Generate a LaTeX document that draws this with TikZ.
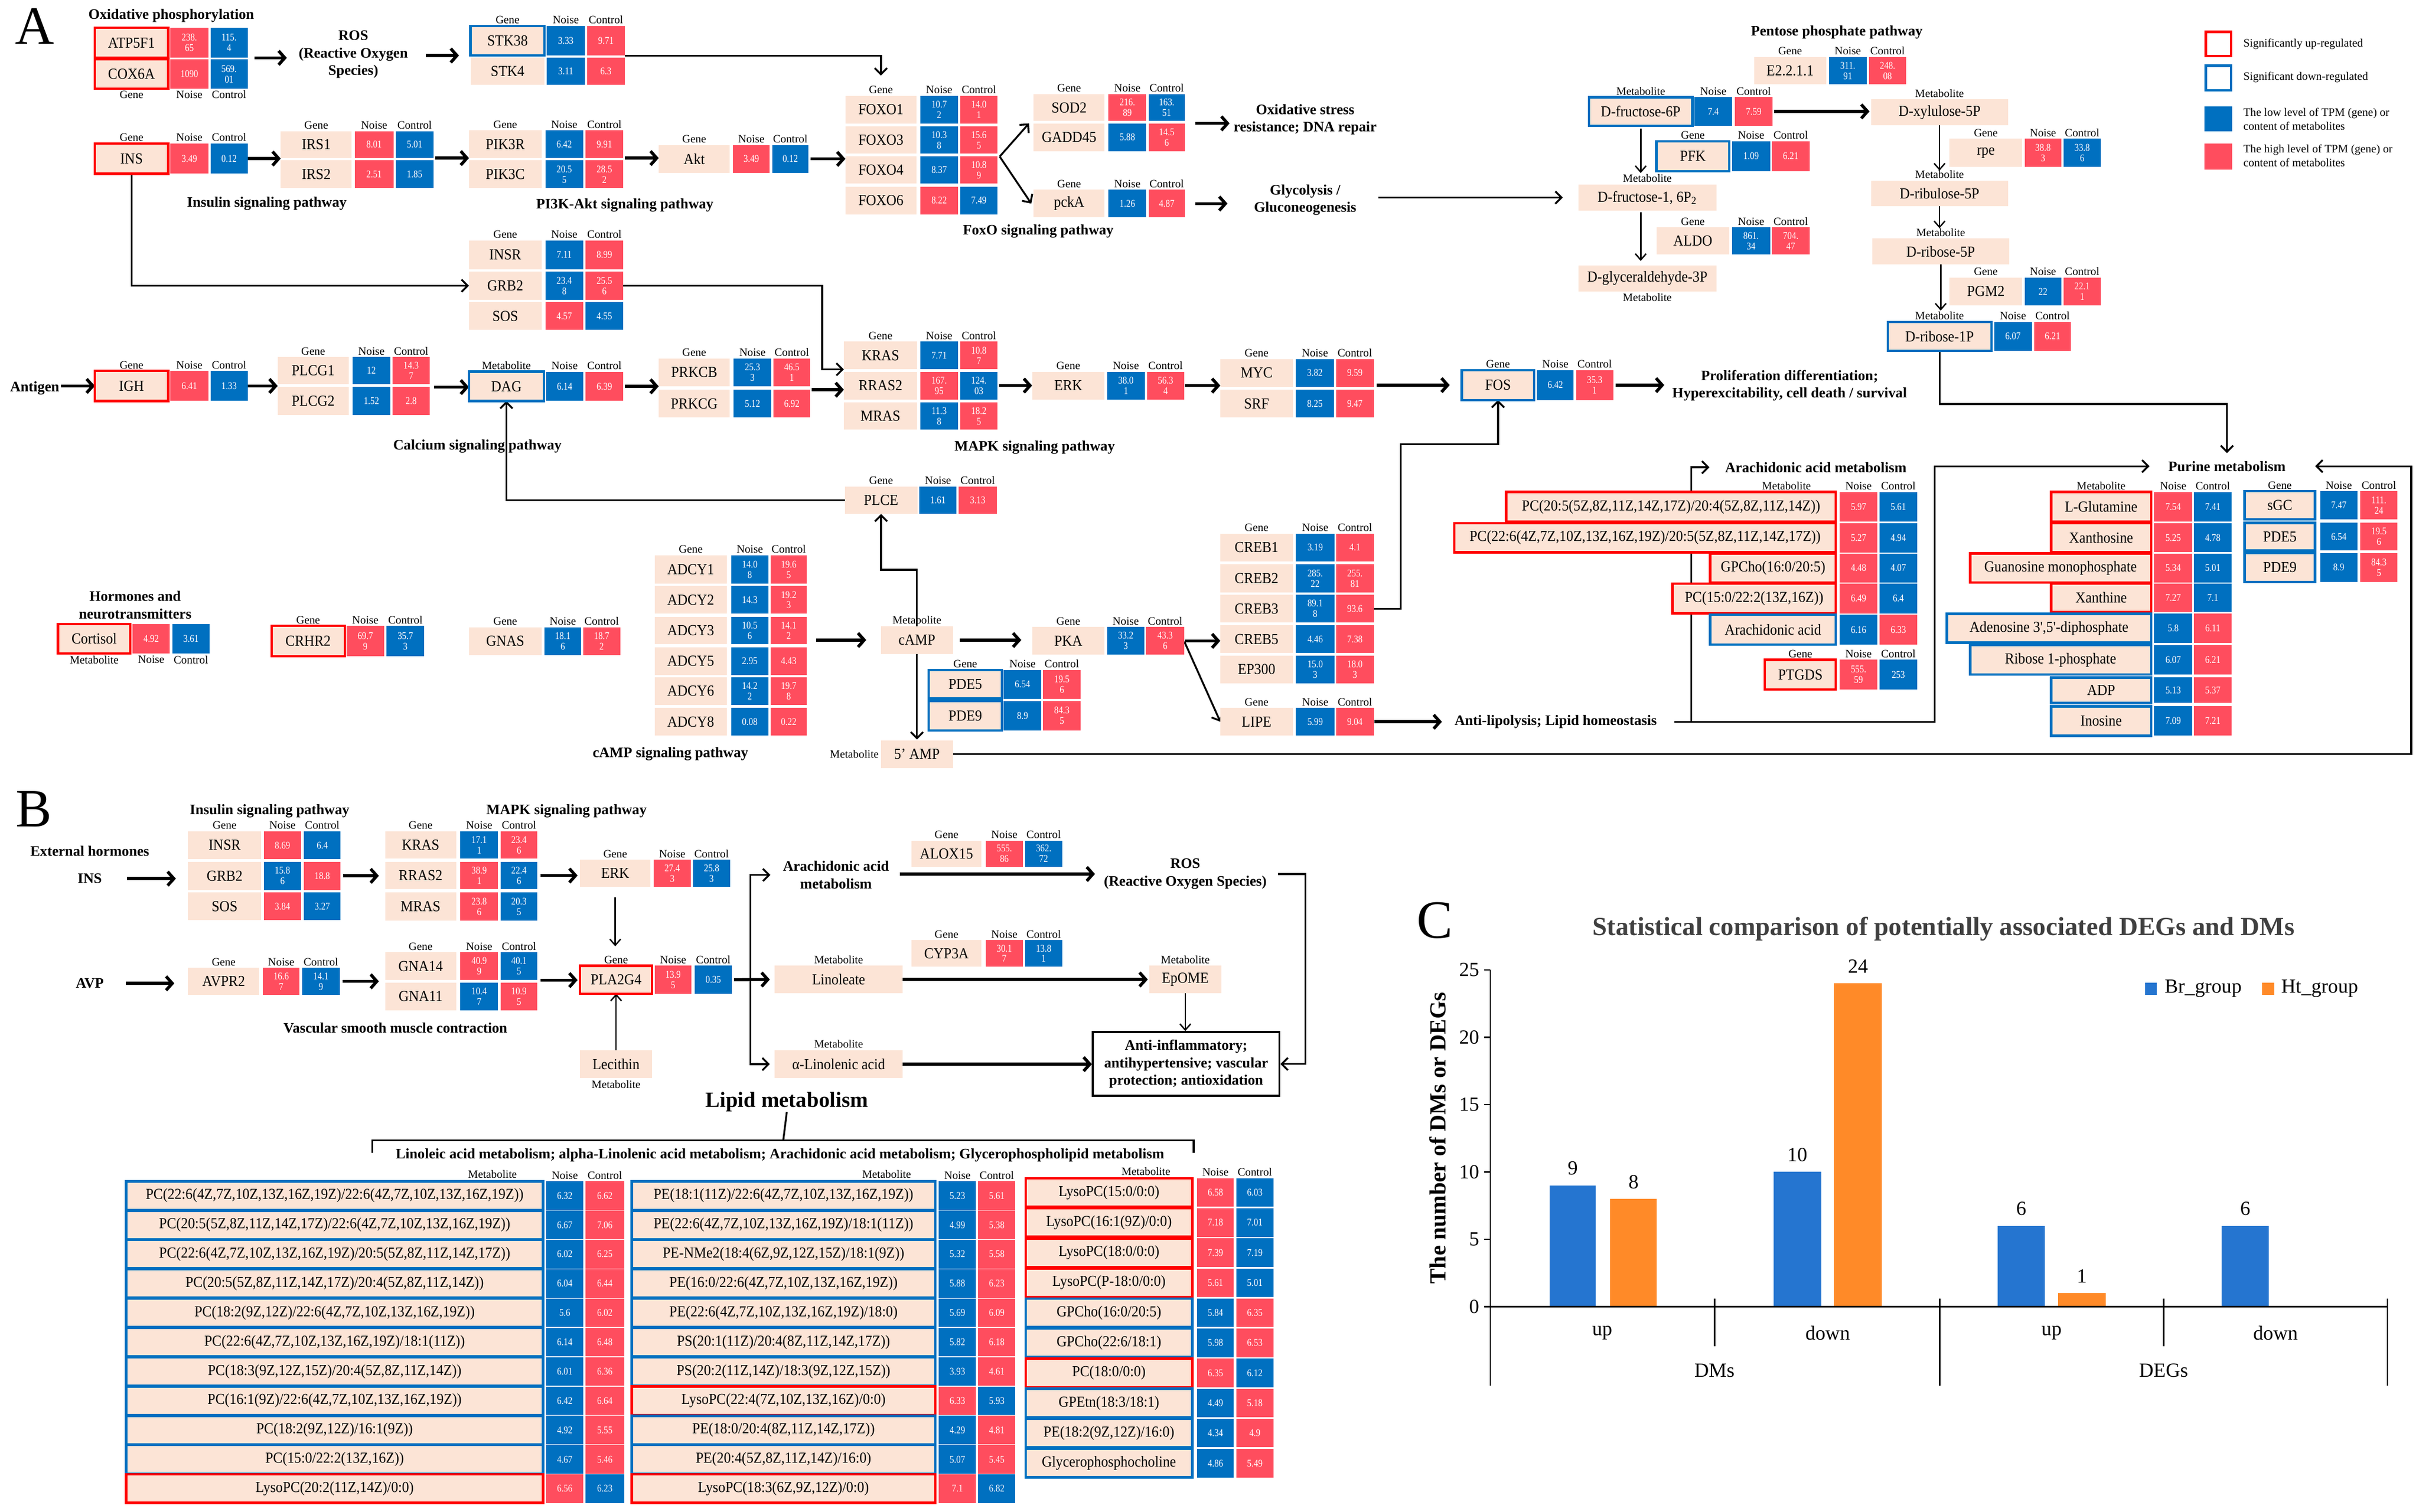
\documentclass[tikz,border=0pt]{standalone}
\usepackage{fontspec}
\setmainfont{Liberation Serif}
\newfontfamily\gfont[FakeStretch=0.92]{Liberation Serif}
\newfontfamily\nfont[FakeStretch=0.85]{Liberation Serif}
\usetikzlibrary{arrows.meta,fit}
\pgfdeclarelayer{back}
\pgfdeclarelayer{bg}
\pgfsetlayers{back,bg,main}
\definecolor{beige}{HTML}{FCE4D6}
\definecolor{cR}{HTML}{FF4D5E}
\definecolor{cB}{HTML}{0070C0}
\definecolor{bR}{HTML}{FF0000}
\definecolor{bB}{HTML}{0070C0}
\definecolor{barB}{HTML}{2575D0}
\definecolor{barO}{HTML}{FF8A28}
\definecolor{tgray}{HTML}{404040}
\newcommand{\setcols}[6]{\def\xa{#1}\def\xb{#2}\def\xc{#3}\def\xd{#4}\def\xe{#5}\def\xf{#6}}
\newcommand{\grw}[9]{%
 \node[#4, fit={(\xa,#2)(\xb,#3)}] (#1) {};
 \node[gt] (#1t) at (#1.center) {#5};
 \node[#6, fit={(\xc,#2)(\xd,#3)}] (#1n) {};
 \node[ctx] (#1nt) at (#1n.center) {#7};
 \node[#8, fit={(\xe,#2)(\xf,#3)}] (#1c) {};
 \node[ctx] (#1ct) at (#1c.center) {#9};}
\newcommand{\bxx}[6]{\node[gb, fit={(#2,#3)(#4,#5)}] (#1) {};\node[gt] (#1t) at (#1.center) {#6};}
\newcommand{\HdrA}[2]{\node[hd,anchor=south] (#1h1) at (#1.north) {#2};\node[hd,anchor=south] (#1h2) at (#1n.north) {Noise};\node[hd,anchor=south] (#1h3) at (#1c.north) {Control};}
\newcommand{\HdrB}[2]{\node[hd,anchor=north] (#1h1) at (#1.south) {#2};\node[hd,anchor=north] (#1h2) at (#1n.south) {Noise};\node[hd,anchor=north] (#1h3) at (#1c.south) {Control};}
\newcommand{\HdrNC}[1]{\node[hd,anchor=south] (#1h2) at (#1n.north) {Noise};\node[hd,anchor=south] (#1h3) at (#1c.north) {Control};}
\tikzset{
 gb/.style={fill=beige, inner sep=0pt, outer sep=0pt},
 up/.style={gb, draw=bR, line width=1.6pt},
 dn/.style={gb, draw=bB, line width=1.6pt},
 cr/.style={fill=cR, inner sep=0pt, outer sep=0pt},
 cb/.style={fill=cB, inner sep=0pt, outer sep=0pt},
 gt/.style={inner sep=0pt, font=\gfont\fontsize{9.9}{11}\selectfont},
 ctx/.style={inner sep=0pt, text=white, font=\nfont\fontsize{6.7}{6.8}\selectfont, align=center},
 hd/.style={font=\fontsize{7.3}{8}\selectfont, inner sep=1.2pt},
 tt/.style={font=\bfseries\fontsize{9.4}{11.3}\selectfont, align=center, inner sep=0pt},
 lg/.style={font=\fontsize{7.4}{9.1}\selectfont, inner sep=0pt, align=left},
 big/.style={font=\fontsize{35}{35}\selectfont, inner sep=0pt},
 ct/.style={font=\fontsize{13}{15}\selectfont, inner sep=0pt},
 arrK/.style={line width=2pt, -{Straight Barb[length=4pt,width=9pt]}},
 arrM/.style={line width=1.2pt, -{Straight Barb[length=4pt,width=8pt]}},
 arrT/.style={line width=0.9pt, -{Straight Barb[length=4pt,width=7pt]}},
}
\begin{document}
\begin{tikzpicture}[x=1pt,y=-1pt]
\useasboundingbox (0,0) rectangle (1568,980.4);
\begin{pgfonlayer}{back}
\fill[white] (0,0) rectangle (1568,980.4);
\end{pgfonlayer}
% ================= PANEL A =================
\node[big] (lA) at (22.5,17) {A};
\node[tt] (oxp) at (111,10) {Oxidative phosphorylation};
\setcols{61.5}{109}{110.5}{135}{136.5}{160.5}
\grw{atp}{18}{37.5}{up}{ATP5F1}{cr}{238.\\65}{cb}{115.\\4}
\grw{cox}{38.5}{57.5}{up}{COX6A}{cr}{1090}{cb}{569.\\01}
\HdrB{cox}{Gene}
\node[tt] (ros) at (229,35.4) {ROS\\(Reactive Oxygen\\Species)};
\setcols{305}{353}{354.5}{379}{380.5}{405}
\grw{stkA}{16.8}{36}{dn}{STK38}{cb}{3.33}{cr}{9.71}
\grw{stkB}{37.5}{55}{gb}{STK4}{cb}{3.11}{cr}{6.3}
\HdrA{stkA}{Gene}
\setcols{61.5}{109}{110.5}{135}{136.5}{160.5}
\grw{ins}{93}{112.6}{up}{INS}{cr}{3.49}{cb}{0.12}
\HdrA{ins}{Gene}
\setcols{182}{228}{230}{255}{256.5}{281}
\grw{irsA}{85}{102.5}{gb}{IRS1}{cr}{8.01}{cb}{5.01}
\grw{irsB}{104}{122}{gb}{IRS2}{cr}{2.51}{cb}{1.85}
\HdrA{irsA}{Gene}
\setcols{304}{351}{353.5}{378}{379.5}{404}
\grw{pikR}{84.5}{102.5}{gb}{PIK3R}{cb}{6.42}{cr}{9.91}
\grw{pikC}{104}{122}{gb}{PIK3C}{cb}{20.5\\5}{cr}{28.5\\2}
\HdrA{pikR}{Gene}
\setcols{427}{473}{475}{499}{500.5}{524}
\grw{akt}{94}{112}{gb}{Akt}{cr}{3.49}{cb}{0.12}
\HdrA{akt}{Gene}
\node[tt] (insp) at (173,132) {Insulin signaling pathway};
\node[tt] (pikp) at (405,133) {PI3K-Akt signaling pathway};
\setcols{548}{594}{596.5}{621}{622.5}{646.5}
\grw{foxA}{62}{80}{gb}{FOXO1}{cb}{10.7\\2}{cr}{14.0\\1}
\grw{foxB}{82}{99.5}{gb}{FOXO3}{cb}{10.3\\8}{cr}{15.6\\5}
\grw{foxC}{101.5}{119}{gb}{FOXO4}{cb}{8.37}{cr}{10.8\\9}
\grw{foxD}{121}{139}{gb}{FOXO6}{cr}{8.22}{cb}{7.49}
\HdrA{foxA}{Gene}
\setcols{670}{716}{718.5}{743}{744.5}{768}
\grw{sod}{61}{78.5}{gb}{SOD2}{cr}{216.\\89}{cb}{163.\\51}
\grw{gadd}{80}{98}{gb}{GADD45}{cb}{5.88}{cr}{14.5\\6}
\HdrA{sod}{Gene}
\grw{pcka}{123}{141}{gb}{pckA}{cb}{1.26}{cr}{4.87}
\HdrA{pcka}{Gene}
\node[tt] (foxp) at (673,150) {FoxO signaling pathway};
\node[tt] (oxs) at (846,77.5) {Oxidative stress\\resistance; DNA repair};
\node[tt] (glyc) at (846,129.7) {Glycolysis /\\Gluconeogenesis};
\setcols{304}{351}{353.5}{378}{379.5}{404}
\grw{insr}{156}{174.5}{gb}{INSR}{cb}{7.11}{cr}{8.99}
\grw{grb}{176}{194.5}{gb}{GRB2}{cb}{23.4\\8}{cr}{25.5\\6}
\grw{sos}{196}{214}{gb}{SOS}{cr}{4.57}{cb}{4.55}
\HdrA{insr}{Gene}
\setcols{61.5}{109}{110.5}{135}{136.5}{160.5}
\grw{igh}{240.5}{260}{up}{IGH}{cr}{6.41}{cb}{1.33}
\HdrA{igh}{Gene}
\node[tt] (antigen) at (22.5,251.6) {Antigen};
\setcols{180}{226}{228.5}{253}{254.5}{278.5}
\grw{plcA}{231.5}{249}{gb}{PLCG1}{cb}{12}{cr}{14.3\\7}
\grw{plcB}{251}{269}{gb}{PLCG2}{cb}{1.52}{cr}{2.8}
\HdrA{plcA}{Gene}
\setcols{304}{352.5}{354}{378}{379.5}{404}
\grw{dag}{241}{260}{dn}{DAG}{cb}{6.14}{cr}{6.39}
\HdrA{dag}{Metabolite}
\setcols{427}{473}{475.5}{500}{501.5}{525}
\grw{prkB}{232.5}{250.5}{gb}{PRKCB}{cb}{25.3\\3}{cr}{46.5\\1}
\grw{prkG}{252.7}{270.7}{gb}{PRKCG}{cb}{5.12}{cr}{6.92}
\HdrA{prkB}{Gene}
\setcols{547}{594.5}{596.5}{621}{622.5}{646.5}
\grw{kras}{221.5}{239.5}{gb}{KRAS}{cb}{7.71}{cr}{10.8\\7}
\grw{rras}{241}{259}{gb}{RRAS2}{cr}{167.\\95}{cb}{124.\\03}
\grw{mras}{261}{278.6}{gb}{MRAS}{cb}{11.3\\8}{cr}{18.2\\5}
\HdrA{kras}{Gene}
\setcols{669}{716}{717.6}{742}{743.5}{767.5}
\grw{erk}{241}{259}{gb}{ERK}{cb}{38.0\\1}{cr}{56.3\\4}
\HdrA{erk}{Gene}
\setcols{791}{838}{840}{864.6}{866}{890.4}
\grw{myc}{232.8}{250.8}{gb}{MYC}{cb}{3.82}{cr}{9.59}
\grw{srf}{252.8}{270.7}{gb}{SRF}{cb}{8.25}{cr}{9.47}
\HdrA{myc}{Gene}
\setcols{947.5}{994.5}{996.3}{1020}{1021.6}{1045.7}
\grw{fos}{240}{259.4}{dn}{FOS}{cb}{6.42}{cr}{35.3\\1}
\HdrA{fos}{Gene}
\node[tt] (prolif) at (1160,249.9) {Proliferation differentiation;\\Hyperexcitability, cell death / survival};
\node[tt] (calcp) at (309.5,289.5) {Calcium signaling pathway};
\node[tt] (mapk) at (670.7,290) {MAPK signaling pathway};
\setcols{547.6}{594.6}{596}{620}{621.5}{646}
\grw{plce}{315.4}{333.2}{gb}{PLCE}{cb}{1.61}{cr}{3.13}
\HdrA{plce}{Gene}
\node[tt] (horm) at (87.6,392.3) {Hormones and\\neurotransmitters};
\setcols{37.6}{84.5}{86}{110}{111.6}{136}
\grw{cort}{404.6}{423.8}{up}{Cortisol}{cr}{4.92}{cb}{3.61}
\HdrB{cort}{Metabolite}
\setcols{176}{223.5}{224.6}{249}{250.5}{275}
\grw{crhr}{405.8}{425.6}{up}{CRHR2}{cr}{69.7\\9}{cb}{35.7\\3}
\HdrA{crhr}{Gene}
\setcols{304}{351}{353}{376.6}{378}{402}
\grw{gnas}{406.8}{424.8}{gb}{GNAS}{cb}{18.1\\6}{cr}{18.7\\2}
\HdrA{gnas}{Gene}
\setcols{424.5}{471}{474}{498}{499.5}{523}
\grw{adA}{360}{378.5}{gb}{ADCY1}{cb}{14.0\\8}{cr}{19.6\\5}
\grw{adB}{380}{398}{gb}{ADCY2}{cb}{14.3}{cr}{19.2\\3}
\grw{adC}{400}{417.7}{gb}{ADCY3}{cb}{10.5\\6}{cr}{14.1\\2}
\grw{adD}{419.7}{437.6}{gb}{ADCY5}{cb}{2.95}{cr}{4.43}
\grw{adE}{439}{457}{gb}{ADCY6}{cb}{14.2\\2}{cr}{19.7\\8}
\grw{adF}{459}{477}{gb}{ADCY8}{cb}{0.08}{cr}{0.22}
\HdrA{adA}{Gene}
\node[tt] (campp) at (434.6,489) {cAMP signaling pathway};
\bxx{camp}{571}{406}{617.7}{424}{cAMP}
\node[hd,anchor=south] (camph) at (camp.north) {Metabolite};
\bxx{amp}{571}{480}{617.7}{498}{5’ AMP}
\node[hd,anchor=east] (amph) at (amp.west) {Metabolite};
\setcols{669}{716}{717.7}{741.7}{743}{767.5}
\grw{pka}{406.6}{424.5}{gb}{PKA}{cb}{33.2\\3}{cr}{43.3\\6}
\HdrA{pka}{Gene}
\setcols{602}{649.4}{650.6}{675}{676}{700.6}
\grw{pdeA}{434.4}{453}{dn}{PDE5}{cb}{6.54}{cr}{19.5\\6}
\grw{pdeB}{454.5}{473.6}{dn}{PDE9}{cb}{8.9}{cr}{84.3\\5}
\HdrA{pdeA}{Gene}
\setcols{791}{838}{840}{865}{866}{890.5}
\grw{crA}{346}{364}{gb}{CREB1}{cb}{3.19}{cr}{4.1}
\grw{crB}{366}{384}{gb}{CREB2}{cb}{285.\\22}{cr}{255.\\81}
\grw{crC}{385.7}{403.7}{gb}{CREB3}{cb}{89.1\\8}{cr}{93.6}
\grw{crD}{405.5}{423.5}{gb}{CREB5}{cb}{4.46}{cr}{7.38}
\grw{ep}{425}{443}{gb}{EP300}{cb}{15.0\\3}{cr}{18.0\\3}
\HdrA{crA}{Gene}
\grw{lipe}{459}{477}{gb}{LIPE}{cb}{5.99}{cr}{9.04}
\HdrA{lipe}{Gene}
\node[tt] (antilip) at (1008.4,468) {Anti-lipolysis; Lipid homeostasis};
% pentose
\node[tt] (ppp) at (1190.6,21.1) {Pentose phosphate pathway};
\setcols{1137}{1183.7}{1185.5}{1210}{1211.4}{1235.6}
\grw{ez}{37}{54.8}{gb}{E2.2.1.1}{cb}{311.\\91}{cr}{248.\\08}
\HdrA{ez}{Gene}
\setcols{1030}{1097}{1098.4}{1122.7}{1124.5}{1149}
\grw{dfs}{63}{81.5}{dn}{D-fructose-6P}{cb}{7.4}{cr}{7.59}
\HdrA{dfs}{Metabolite}
\setcols{1073.7}{1120.9}{1122.7}{1147.4}{1148.5}{1173}
\grw{pfk}{91.6}{111}{dn}{PFK}{cb}{1.09}{cr}{6.21}
\HdrA{pfk}{Gene}
\grw{aldo}{147.4}{165}{gb}{ALDO}{cb}{861.\\34}{cr}{704.\\47}
\HdrA{aldo}{Gene}
\bxx{dfb}{1023}{119.6}{1112.6}{136.6}{D-fructose-1, 6P\textsubscript{2}}
\node[hd,anchor=south] (dfbh) at (dfb.north) {Metabolite};
\bxx{dgp}{1023}{172}{1112.6}{189}{D-glyceraldehyde-3P}
\node[hd,anchor=north] (dgph) at (dgp.south) {Metabolite};
\bxx{dxp}{1212.8}{64.4}{1301.6}{81.2}{D-xylulose-5P}
\node[hd,anchor=south] (dxph) at (dxp.north) {Metabolite};
\bxx{drup}{1212.8}{117}{1301.6}{133.7}{D-ribulose-5P}
\node[hd,anchor=south] (druph) at (drup.north) {Metabolite};
\bxx{drfp}{1213.5}{154.6}{1302.4}{171.6}{D-ribose-5P}
\node[hd,anchor=south] (drfph) at (drfp.north) {Metabolite};
\setcols{1263.6}{1310.8}{1312.3}{1336.2}{1337.7}{1361.6}
\grw{rpe}{90}{108}{gb}{rpe}{cr}{38.8\\3}{cb}{33.8\\6}
\HdrA{rpe}{Gene}
\grw{pgm}{180}{198}{gb}{PGM2}{cb}{22}{cr}{22.1\\1}
\HdrA{pgm}{Gene}
\setcols{1223.6}{1290.8}{1292.6}{1317}{1318.5}{1342.4}
\grw{dop}{208.8}{227.4}{dn}{D-ribose-1P}{cb}{6.07}{cr}{6.21}
\HdrA{dop}{Metabolite}
% legend
\node[draw=bR, line width=1.6pt, inner sep=0pt, fit={(1429.8,20.6)(1446.2,36.2)}] (lgA) {};
\node[draw=bB, line width=1.6pt, inner sep=0pt, fit={(1429.8,42.6)(1446.2,58.6)}] (lgB) {};
\node[fill=cB, inner sep=0pt, fit={(1429,69)(1447,85)}] (lgC) {};
\node[fill=cR, inner sep=0pt, fit={(1429,93)(1447,110)}] (lgD) {};
\node[lg, anchor=west] (lgtA) at (1454,28.5) {Significantly up-regulated};
\node[lg, anchor=west] (lgtB) at (1454,50.3) {Significant down-regulated};
\node[lg, anchor=west] (lgtC) at (1454,77.1) {The low level of TPM (gene) or\\content of metabolites};
\node[lg, anchor=west] (lgtD) at (1454,101) {The high level of TPM (gene) or\\content of metabolites};
% arachidonic block
\node[tt] (arach) at (1177,303) {Arachidonic acid metabolism};
\node[hd] (arh) at (1158,315) {Metabolite};
\setcols{976.3}{1190}{1192.6}{1216.8}{1218.4}{1242.6}
\grw{apA}{319}{338.3}{up}{PC(20:5(5Z,8Z,11Z,14Z,17Z)/20:4(5Z,8Z,11Z,14Z))}{cr}{5.97}{cb}{5.61}
\HdrNC{apA}
\def\xa{942.7}
\grw{apB}{339.2}{358.2}{up}{PC(22:6(4Z,7Z,10Z,13Z,16Z,19Z)/20:5(5Z,8Z,11Z,14Z,17Z))}{cr}{5.27}{cb}{4.94}
\def\xa{1108.5}
\grw{apC}{358.9}{377.7}{up}{GPCho(16:0/20:5)}{cr}{4.48}{cb}{4.07}
\def\xa{1084}
\grw{apD}{378.5}{397.7}{up}{PC(15:0/22:2(13Z,16Z))}{cr}{6.49}{cb}{6.4}
\def\xa{1108.5}
\grw{apE}{398.5}{418}{dn}{Arachidonic acid}{cb}{6.16}{cr}{6.33}
\def\xa{1144}
\grw{ptg}{427.8}{447}{up}{PTGDS}{cr}{555.\\59}{cb}{253}
\HdrA{ptg}{Gene}
% purine block
\node[tt] (purine) at (1443.5,302.3) {Purine metabolism};
\setcols{1329.6}{1394.3}{1396.3}{1421}{1422.2}{1446.5}
\grw{puA}{319}{338.3}{up}{L-Glutamine}{cr}{7.54}{cb}{7.41}
\HdrA{puA}{Metabolite}
\grw{puB}{339.2}{358}{up}{Xanthosine}{cr}{5.25}{cb}{4.78}
\def\xa{1277}
\grw{puC}{358.9}{377.7}{up}{Guanosine monophosphate}{cr}{5.34}{cb}{5.01}
\def\xa{1329.6}
\grw{puD}{378.5}{396.7}{up}{Xanthine}{cr}{7.27}{cb}{7.1}
\def\xa{1262}
\grw{puE}{398}{416.7}{dn}{Adenosine 3',5'-diphosphate}{cb}{5.8}{cr}{6.11}
\def\xa{1277}
\grw{puF}{418.4}{437.3}{dn}{Ribose 1-phosphate}{cb}{6.07}{cr}{6.21}
\def\xa{1329.6}
\grw{puG}{439.3}{455.8}{dn}{ADP}{cb}{5.13}{cr}{5.37}
\grw{puH}{458}{477}{dn}{Inosine}{cb}{7.09}{cr}{7.21}
\setcols{1455}{1500.6}{1504}{1528}{1530}{1554}
\grw{sgc}{318.5}{336.8}{dn}{sGC}{cb}{7.47}{cr}{111.\\24}
\HdrA{sgc}{Gene}
\grw{pdeC}{339}{357}{dn}{PDE5}{cb}{6.54}{cr}{19.5\\6}
\grw{pdeD}{358.6}{377.3}{dn}{PDE9}{cb}{8.9}{cr}{84.3\\5}
% ---- connectors A
\begin{pgfonlayer}{bg}
\draw[arrK, shorten <=4.5pt, shorten >=7.5pt] (atpc.south east) -- (atpc.south east -| ros.west);
\draw[arrK, shorten <=11.5pt, shorten >=7.5pt] (ros.east |- stkA.south west) -- (stkA.south west);
\draw[arrM, shorten >=13pt] (stkAc.south east) -| (foxA.north);
\draw[arrK] (insc.east) -- (insc.east -| irsA.west);
\draw[arrK, shorten <=1pt] (irsAc.south east) -- (irsAc.south east -| pikR.west);
\draw[arrK, shorten <=1pt] (pikRc.south east) -- (pikRc.south east -| akt.west);
\draw[arrK, shorten <=1.5pt] (aktc.east) -- (aktc.east -| foxC.west);
\coordinate (fx) at ([xshift=1.5pt]foxCc.north east);
\draw[arrM] (fx) -- ([xshift=-3pt]gadd.north west);
\draw[arrM] (fx) -- ([xshift=-1.5pt]pcka.west);
\draw[arrK, shorten <=7pt, shorten >=2.5pt] (gaddc.north east) -- (gaddc.north east -| oxs.west);
\draw[arrK, shorten <=7pt, shorten >=17pt] (pckac.east) -- (pckac.east -| glyc.west);
\draw[arrM, shorten <=14pt, shorten >=10pt] (glyc.east |- dfb.west) -- (dfb.west);
\draw[arrM] (ins.south) |- (grb.west);
\coordinate (gk) at (533,185.25);
\draw[arrM] (grbc.east) -- (gk) |- (kras.south west);
\draw[arrK, shorten <=1pt] (antigen.east |- igh.west) -- (igh.west);
\draw[arrK] (ighc.east) -- (ighc.east -| plcA.west);
\draw[arrK, shorten <=3pt] (plcBc.north east) -- (plcBc.north east -| dag.west);
\draw[arrK, shorten <=1pt] (dagc.east) -- (dagc.east -| prkB.west);
\draw[arrK, shorten <=1pt] (prkGc.north east) -- (prkGc.north east -| rras.west);
\draw[arrK, shorten <=1pt] (rrasc.east) -- (rrasc.east -| erk.west);
\draw[arrK, shorten <=0.5pt] (erkc.east) -- (erkc.east -| myc.west);
\draw[arrK, shorten <=2pt, shorten >=7.8pt] (srfc.north east |- fos.west) -- (fos.west);
\draw[arrK, shorten <=1.5pt, shorten >=5pt] (fosc.east) -- (fosc.east -| prolif.west);
\draw[arrM] (plce.west) -| (dag.south);
\draw[arrM] (camp.north) -- ++(0,-36.5) -| (plce.south);
\draw[arrK, shorten <=6pt, shorten >=9.5pt] (adCc.east |- camp.west) -- (camp.west);
\draw[arrK, shorten <=4.3pt, shorten >=7pt] (camp.east) -- (camp.east -| pka.west);
\draw[arrM, shorten >=0.5pt] (camp.south) -- (amp.north);
\draw[arrK, shorten <=0.5pt] (pkac.east) -- (pkac.east -| crD.west);
\draw[arrM, shorten <=0.5pt] (pkac.east) -- (lipe.west);
\draw[arrK, shorten <=0.5pt, shorten >=8pt] (lipec.east) -- (lipec.east -| antilip.west);
\coordinate (cf) at (908,288);
\draw[arrM] (crCc.east) -| (cf) -| (fos.south);
\coordinate (alA) at (1096.4,468);
\coordinate (alB) at (1254,468);
\draw[arrM, shorten <=11pt, shorten >=12pt] (antilip.east) -- (alB) |- (purine.west);
\draw[arrM, shorten >=10pt] (alA) |- (arach.west);
\coordinate (pr) at (1563,489);
\draw[arrM, shorten >=19pt] (amp.east) -- (pr) |- (purine.east);
\coordinate (dp) at (1257.2,262);
\draw[arrM, shorten >=5pt] (dop.south) -- (dp) -| (purine.north);
\draw[arrK, shorten <=1pt, shorten >=1pt] (dfsc.east) -- (dfsc.east -| dxp.west);
\draw[arrT, shorten <=2pt, shorten >=7.4pt] (dfs.south) -- (dfs.south |- dfb.north);
\draw[arrT, shorten <=1pt, shorten >=2.8pt] (dfb.south -| dfs.south) -- (dfs.south |- dgp.north);
\draw[arrT, shorten >=6.4pt] (dxp.south) -- (dxp.south |- drup.north);
\draw[arrT, shorten >=6.6pt] (drup.south) -- (drup.south |- drfp.north);
\draw[arrT, shorten >=7.4pt] (drfp.south) -- (drfp.south |- dop.north);
\end{pgfonlayer}
% ================= PANEL B =================
\node[big] (lB) at (22,524.5) {B};
\node[tt] (binsp) at (174.8,525.8) {Insulin signaling pathway};
\node[tt] (bmapk) at (367.2,525.8) {MAPK signaling pathway};
\node[tt] (exth) at (58.2,551.8) {External hormones};
\node[tt] (bins) at (58.2,569.7) {INS};
\node[tt] (bavp) at (58.2,637.6) {AVP};
\setcols{122}{169.2}{170.9}{195.3}{197}{220.8}
\grw{binsr}{539.1}{557}{gb}{INSR}{cr}{8.69}{cb}{6.4}
\grw{bgrb}{558.8}{577}{gb}{GRB2}{cb}{15.8\\6}{cr}{18.8}
\grw{bsos}{578.7}{596.7}{gb}{SOS}{cr}{3.84}{cb}{3.27}
\HdrA{binsr}{Gene}
\setcols{249.6}{295.7}{298.4}{322.8}{324.5}{348.3}
\grw{bkras}{539.1}{556.8}{gb}{KRAS}{cb}{17.1\\1}{cr}{23.4\\6}
\grw{brras}{558.8}{576.6}{gb}{RRAS2}{cr}{38.9\\1}{cb}{22.4\\6}
\grw{bmras}{578.7}{597}{gb}{MRAS}{cr}{23.8\\6}{cb}{20.3\\5}
\HdrA{bkras}{Gene}
\setcols{376}{421.6}{423.8}{447.7}{449.3}{473.2}
\grw{berk}{557.5}{575}{gb}{ERK}{cr}{27.4\\3}{cb}{25.8\\3}
\HdrA{berk}{Gene}
\setcols{590.8}{636.2}{639}{663}{664.6}{688.4}
\grw{alox}{545}{562}{gb}{ALOX15}{cr}{555.\\86}{cb}{362.\\72}
\HdrA{alox}{Gene}
\grw{cyp}{609.6}{626.9}{gb}{CYP3A}{cr}{30.1\\7}{cb}{13.8\\1}
\HdrA{cyp}{Gene}
\setcols{122}{168}{170.3}{194.2}{195.8}{220.2}
\grw{avpr}{627.6}{645}{gb}{AVPR2}{cr}{16.6\\7}{cb}{14.1\\9}
\HdrA{avpr}{Gene}
\setcols{249.6}{295.7}{298.4}{322.8}{324.5}{348.3}
\grw{gnaA}{617.5}{635.5}{gb}{GNA14}{cr}{40.9\\9}{cb}{40.1\\5}
\grw{gnaB}{637.1}{655.1}{gb}{GNA11}{cb}{10.4\\7}{cr}{10.9\\5}
\HdrA{gnaA}{Gene}
\setcols{376}{422.7}{424.4}{448.2}{450.4}{474.3}
\grw{pla}{626.2}{644.3}{up}{PLA2G4}{cr}{13.9\\5}{cb}{0.35}
\HdrA{pla}{Gene}
\bxx{linol}{502}{626.2}{585.2}{644}{Linoleate}
\node[hd,anchor=south] (linolh) at (linol.north) {Metabolite};
\bxx{alin}{502}{681}{585.2}{699}{α-Linolenic acid}
\node[hd,anchor=south] (alinh) at (alin.north) {Metabolite};
\bxx{epome}{745}{626.2}{791.6}{644}{EpOME}
\node[hd,anchor=south] (epomeh) at (epome.north) {Metabolite};
\bxx{lec}{376}{681}{422.7}{699}{Lecithin}
\node[hd,anchor=north] (lech) at (lec.south) {Metabolite};
\node[draw, line width=1.3pt, inner sep=0pt, fit={(708.4,669.2)(829.3,710.6)}] (antib) {};
\node[tt] (antibt) at (antib.center) {Anti-inflammatory;\\antihypertensive; vascular\\protection; antioxidation};
\node[tt] (barach) at (541.9,567.3) {Arachidonic acid\\metabolism};
\node[tt] (bros) at (768.3,566.7) {ROS\\(Reactive Oxygen Species)};
\node[tt] (vsmc) at (256.3,666.5) {Vascular smooth muscle contraction};
% connectors B
\begin{pgfonlayer}{bg}
\draw[arrK, shorten <=16pt, shorten >=8pt] (bins.east) -- (bins.east -| bgrb.west);
\draw[arrK, shorten <=1.5pt, shorten >=4pt] (bgrbc.east) -- (bgrbc.east -| brras.west);
\draw[arrK, shorten <=2pt, shorten >=1.6pt] (brrasc.east) -- (brrasc.east -| berk.west);
\draw[arrT, shorten <=6.7pt, shorten >=12.6pt] (berk.south) -- (berk.south |- pla.north);
\draw[arrK, shorten <=14pt, shorten >=9pt] (bavp.east) -- (bavp.east -| avpr.west);
\draw[arrK, shorten <=2pt, shorten >=4pt] (avprc.east) -- (avprc.east -| gnaA.west);
\draw[arrK, shorten <=2pt, shorten >=1.6pt] (gnaAc.south east) -- (gnaAc.south east -| pla.west);
\draw[arrT] (lec.north) -- (pla.south);
\coordinate (bj) at (486.5,635.3);
\draw[arrK, shorten <=1.5pt, shorten >=3pt] (plac.east) -- (linol.west);
\draw[arrM, shorten >=8pt] (bj) |- (barach.west);
\draw[arrM, shorten >=3pt] (bj) |- (alin.west);
\draw[arrK, shorten <=6.7pt, shorten >=5.6pt] (barach.east |- bros.west) -- (bros.west);
\draw[arrM, shorten <=7pt] (bros.east) -- ++(25,0) |- (antib.east);
\draw[arrK, shorten >=1pt] (linol.east) -- (epome.west);
\draw[arrT] (epome.south) -- (epome.south |- antib.north);
\draw[arrK] (alin.east) -- (antib.west |- alin.east);
\end{pgfonlayer}
% lipid metabolism
\node[tt, font=\bfseries\fontsize{14}{16}\selectfont] (lipid) at (510,714.5) {Lipid metabolism};
\node[tt] (lipsub) at (505.6,749) {Linoleic acid metabolism; alpha-Linolenic acid metabolism; Arachidonic acid metabolism; Glycerophospholipid metabolism};
\draw[line width=1.2pt] (241.4,747.4) -- (241.4,739.5) -- (773.8,739.5) -- (773.8,747.4);
\draw[line width=1.2pt] (507.7,739.5) -- (lipid.south);
\node[hd] (lhA) at (319.2,761.5) {Metabolite};
\node[hd] (lhB) at (574.7,761.5) {Metabolite};
\node[hd] (lhC) at (742.8,759.5) {Metabolite};
\setcols{81.8}{352}{354}{378.2}{379.6}{404.5}
\grw{laA}{766}{784.5}{dn}{PC(22:6(4Z,7Z,10Z,13Z,16Z,19Z)/22:6(4Z,7Z,10Z,13Z,16Z,19Z))}{cb}{6.32}{cr}{6.62}
\HdrNC{laA}
\grw{laB}{785}{803.5}{dn}{PC(20:5(5Z,8Z,11Z,14Z,17Z)/22:6(4Z,7Z,10Z,13Z,16Z,19Z))}{cb}{6.67}{cr}{7.06}
\grw{laC}{804}{822.5}{dn}{PC(22:6(4Z,7Z,10Z,13Z,16Z,19Z)/20:5(5Z,8Z,11Z,14Z,17Z))}{cb}{6.02}{cr}{6.25}
\grw{laD}{823}{841.5}{dn}{PC(20:5(5Z,8Z,11Z,14Z,17Z)/20:4(5Z,8Z,11Z,14Z))}{cb}{6.04}{cr}{6.44}
\grw{laE}{842}{860.5}{dn}{PC(18:2(9Z,12Z)/22:6(4Z,7Z,10Z,13Z,16Z,19Z))}{cb}{5.6}{cr}{6.02}
\grw{laF}{861}{879.5}{dn}{PC(22:6(4Z,7Z,10Z,13Z,16Z,19Z)/18:1(11Z))}{cb}{6.14}{cr}{6.48}
\grw{laG}{880}{898.5}{dn}{PC(18:3(9Z,12Z,15Z)/20:4(5Z,8Z,11Z,14Z))}{cb}{6.01}{cr}{6.36}
\grw{laH}{899}{917.5}{dn}{PC(16:1(9Z)/22:6(4Z,7Z,10Z,13Z,16Z,19Z))}{cb}{6.42}{cr}{6.64}
\grw{laI}{918}{936.5}{dn}{PC(18:2(9Z,12Z)/16:1(9Z))}{cb}{4.92}{cr}{5.55}
\grw{laJ}{937}{955.5}{dn}{PC(15:0/22:2(13Z,16Z))}{cb}{4.67}{cr}{5.46}
\grw{laK}{956}{974.5}{up}{LysoPC(20:2(11Z,14Z)/0:0)}{cr}{6.56}{cb}{6.23}
\setcols{409.5}{606.2}{608.6}{632.6}{634}{658.2}
\grw{lbA}{766}{784.5}{dn}{PE(18:1(11Z)/22:6(4Z,7Z,10Z,13Z,16Z,19Z))}{cb}{5.23}{cr}{5.61}
\HdrNC{lbA}
\grw{lbB}{785}{803.5}{dn}{PE(22:6(4Z,7Z,10Z,13Z,16Z,19Z)/18:1(11Z))}{cb}{4.99}{cr}{5.38}
\grw{lbC}{804}{822.5}{dn}{PE-NMe2(18:4(6Z,9Z,12Z,15Z)/18:1(9Z))}{cb}{5.32}{cr}{5.58}
\grw{lbD}{823}{841.5}{dn}{PE(16:0/22:6(4Z,7Z,10Z,13Z,16Z,19Z))}{cb}{5.88}{cr}{6.23}
\grw{lbE}{842}{860.5}{dn}{PE(22:6(4Z,7Z,10Z,13Z,16Z,19Z)/18:0)}{cb}{5.69}{cr}{6.09}
\grw{lbF}{861}{879.5}{dn}{PS(20:1(11Z)/20:4(8Z,11Z,14Z,17Z))}{cb}{5.82}{cr}{6.18}
\grw{lbG}{880}{898.5}{dn}{PS(20:2(11Z,14Z)/18:3(9Z,12Z,15Z))}{cb}{3.93}{cr}{4.61}
\grw{lbH}{899}{917.5}{up}{LysoPC(22:4(7Z,10Z,13Z,16Z)/0:0)}{cr}{6.33}{cb}{5.93}
\grw{lbI}{918}{936.5}{dn}{PE(18:0/20:4(8Z,11Z,14Z,17Z))}{cb}{4.29}{cr}{4.81}
\grw{lbJ}{937}{955.5}{dn}{PE(20:4(5Z,8Z,11Z,14Z)/16:0)}{cb}{5.07}{cr}{5.45}
\grw{lbK}{956}{974.5}{up}{LysoPC(18:3(6Z,9Z,12Z)/0:0)}{cr}{7.1}{cb}{6.82}
\setcols{664.8}{772.8}{775.9}{799.8}{801.4}{825.4}
\grw{lcA}{764}{782.5}{up}{LysoPC(15:0/0:0)}{cr}{6.58}{cb}{6.03}
\HdrNC{lcA}
\grw{lcB}{783.5}{802}{up}{LysoPC(16:1(9Z)/0:0)}{cr}{7.18}{cb}{7.01}
\grw{lcC}{803}{821.5}{up}{LysoPC(18:0/0:0)}{cr}{7.39}{cb}{7.19}
\grw{lcD}{822.5}{841}{up}{LysoPC(P-18:0/0:0)}{cr}{5.61}{cb}{5.01}
\grw{lcE}{842}{860.5}{dn}{GPCho(16:0/20:5)}{cb}{5.84}{cr}{6.35}
\grw{lcF}{861.5}{880}{dn}{GPCho(22:6/18:1)}{cb}{5.98}{cr}{6.53}
\grw{lcG}{881}{899.5}{up}{PC(18:0/0:0)}{cr}{6.35}{cb}{6.12}
\grw{lcH}{900.5}{919}{dn}{GPEtn(18:3/18:1)}{cb}{4.49}{cr}{5.18}
\grw{lcI}{920}{938.5}{dn}{PE(18:2(9Z,12Z)/16:0)}{cb}{4.34}{cr}{4.9}
\grw{lcJ}{939.5}{958}{dn}{Glycerophosphocholine}{cb}{4.86}{cr}{5.49}
% ================= PANEL C =================
\node[big] (lC) at (930,597) {C};
\node[font=\bfseries\fontsize{16.9}{19}\selectfont, text=tgray, inner sep=0pt] (ctitle) at (1259.8,602.3) {Statistical comparison of potentially associated DEGs and DMs};
\node[rotate=90, font=\bfseries\fontsize{14.9}{17}\selectfont, inner sep=0pt] (ylab) at (932,738) {The number of DMs or DEGs};
\fill[barB] (1004.5,847.2) rectangle (1034.4,{847.2-9*8.73});
\fill[barO] (1043.8,847.2) rectangle (1074,{847.2-8*8.73});
\fill[barB] (1149.6,847.2) rectangle (1180.4,{847.2-10*8.73});
\fill[barO] (1189,847.2) rectangle (1219.7,{847.2-24*8.73});
\fill[barB] (1294.8,847.2) rectangle (1325.5,{847.2-6*8.73});
\fill[barO] (1334,847.2) rectangle (1364.9,{847.2-1*8.73});
\fill[barB] (1440,847.2) rectangle (1470.7,{847.2-6*8.73});
\node[ct, anchor=south] (vA) at (1019.45,{847.2-9*8.73-6.5}) {9};
\node[ct, anchor=south] (vB) at (1058.9,{847.2-8*8.73-6.5}) {8};
\node[ct, anchor=south] (vC) at (1165,{847.2-10*8.73-6.5}) {10};
\node[ct, anchor=south] (vD) at (1204.35,{847.2-24*8.73-6.5}) {24};
\node[ct, anchor=south] (vE) at (1310.15,{847.2-6*8.73-6.5}) {6};
\node[ct, anchor=south] (vF) at (1349.45,{847.2-1*8.73-6.5}) {1};
\node[ct, anchor=south] (vG) at (1455.35,{847.2-6*8.73-6.5}) {6};
\draw[line width=1pt] (966,628.9) -- (966,898.4);
\draw[line width=1pt] (966,847.2) -- (1547.5,847.2);
\foreach \v in {0,5,10,15,20,25} {
  \draw[line width=0.8pt] (962,{847.2-\v*8.73}) -- (966,{847.2-\v*8.73});
  \node[ct, anchor=east] (yt\v) at (959,{847.2-\v*8.73}) {\v};
}
\draw[line width=1pt] (1111.3,842) -- (1111.3,873);
\draw[line width=1pt] (1257.2,842) -- (1257.2,898.4);
\draw[line width=1pt] (1402.4,842) -- (1402.4,873);
\draw[line width=1pt] (1547.5,842) -- (1547.5,898.4);
\node[ct] (xA) at (1038.6,864.2) {up};
\node[ct] (xB) at (1184.7,864.2) {down};
\node[ct] (xC) at (1329.8,864.2) {up};
\node[ct] (xD) at (1475,864.2) {down};
\node[ct] (xE) at (1111.3,888.6) {DMs};
\node[ct] (xF) at (1402.4,888.6) {DEGs};
\node[fill=barB, inner sep=0pt, fit={(1390.4,637.2)(1398,645)}] (lgBr) {};
\node[ct, anchor=west] (lgBrt) at (1403,641) {Br\_group};
\node[fill=barO, inner sep=0pt, fit={(1466.4,637.2)(1474.2,645)}] (lgHt) {};
\node[ct, anchor=west] (lgHtt) at (1478.5,641) {Ht\_group};
\end{tikzpicture}
\end{document}
